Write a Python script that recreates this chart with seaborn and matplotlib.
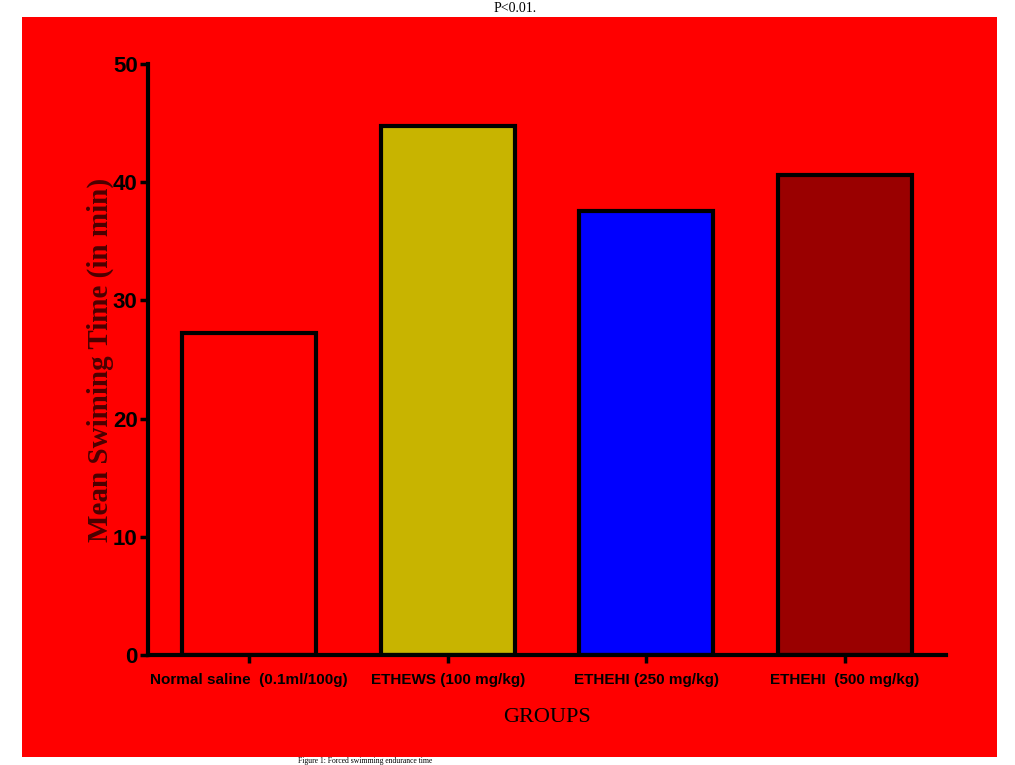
import numpy as np
import pandas as pd
import matplotlib
matplotlib.use('Agg')
import matplotlib.pyplot as plt
from matplotlib.patches import Rectangle
import seaborn as sns

groups = ['Normal saline  (0.1ml/100g)', 'ETHEWS (100 mg/kg)',
          'ETHEHI (250 mg/kg)', 'ETHEHI  (500 mg/kg)']
swim_time = [27.2, 44.75, 37.6, 40.6]
bar_colors = ['#ff0000', '#c8b400', '#0000ff', '#9a0000']
y_ticks = [0, 10, 20, 30, 40, 50]

df = pd.DataFrame({'group': groups, 'time': swim_time})

sns.set_style('ticks')
narrow = ['Liberation Sans Narrow', 'Liberation Sans', 'DejaVu Sans']
serif = ['Liberation Serif', 'DejaVu Serif']

fig = plt.figure(figsize=(10.15, 7.65), dpi=100, facecolor='white')
# red panel behind the chart
fig.patches.append(Rectangle((22 / 1015, 1 - 757 / 765), 975 / 1015, 740 / 765,
                             transform=fig.transFigure, facecolor='#ff0000',
                             edgecolor='none', zorder=-10))

ax = fig.add_axes([148 / 1015, 110 / 765, 798 / 1015, 591 / 765])
ax.set_zorder(5)
ax.set_facecolor('none')

sns.barplot(data=df, x='group', y='time', hue='group', palette=bar_colors,
            width=0.675, edgecolor='black', linewidth=3, saturation=1,
            legend=False, ax=ax)

ax.set_ylim(0, 50)
ax.set_xlim(-0.51, 3.51)
ax.set_yticks(y_ticks)
sns.despine(ax=ax)
for s in ['left', 'bottom']:
    ax.spines[s].set_linewidth(3)
    ax.spines[s].set_color('black')

ax.tick_params(axis='y', length=6, width=2.5, pad=1.5, colors='black')
ax.tick_params(axis='x', length=6, width=2.5, pad=7, colors='black')
for lab in ax.get_yticklabels():
    lab.set_family(narrow)
    lab.set_fontweight('bold')
    lab.set_fontsize(16)
for lab in ax.get_xticklabels():
    lab.set_family(narrow)
    lab.set_fontweight('bold')
    lab.set_fontsize(11)

ax.set_xlabel('')
ax.set_ylabel('Mean Swiming Time (in min)', family=serif, fontweight='bold',
              fontsize=21, color='#4a0000')
ax.yaxis.set_label_coords(-0.043, 0.5)

fig.text(547 / 1015, 1 - 718 / 765, 'GROUPS', family=serif, fontsize=16,
         ha='center', va='center', color='black', zorder=6)

# captions in the white margins above and below the panel
fig.text(515 / 1015, 1 - 8 / 765, 'P<0.01.', family=serif, fontsize=10,
         ha='center', va='center', color='black')
fig.text(298 / 1015, 1 - 761 / 765, 'Figure 1: Forced swimming endurance time',
         family=serif, fontsize=5.5, ha='left', va='center', color='black')

fig.savefig('out.png', dpi=100, facecolor='white')
